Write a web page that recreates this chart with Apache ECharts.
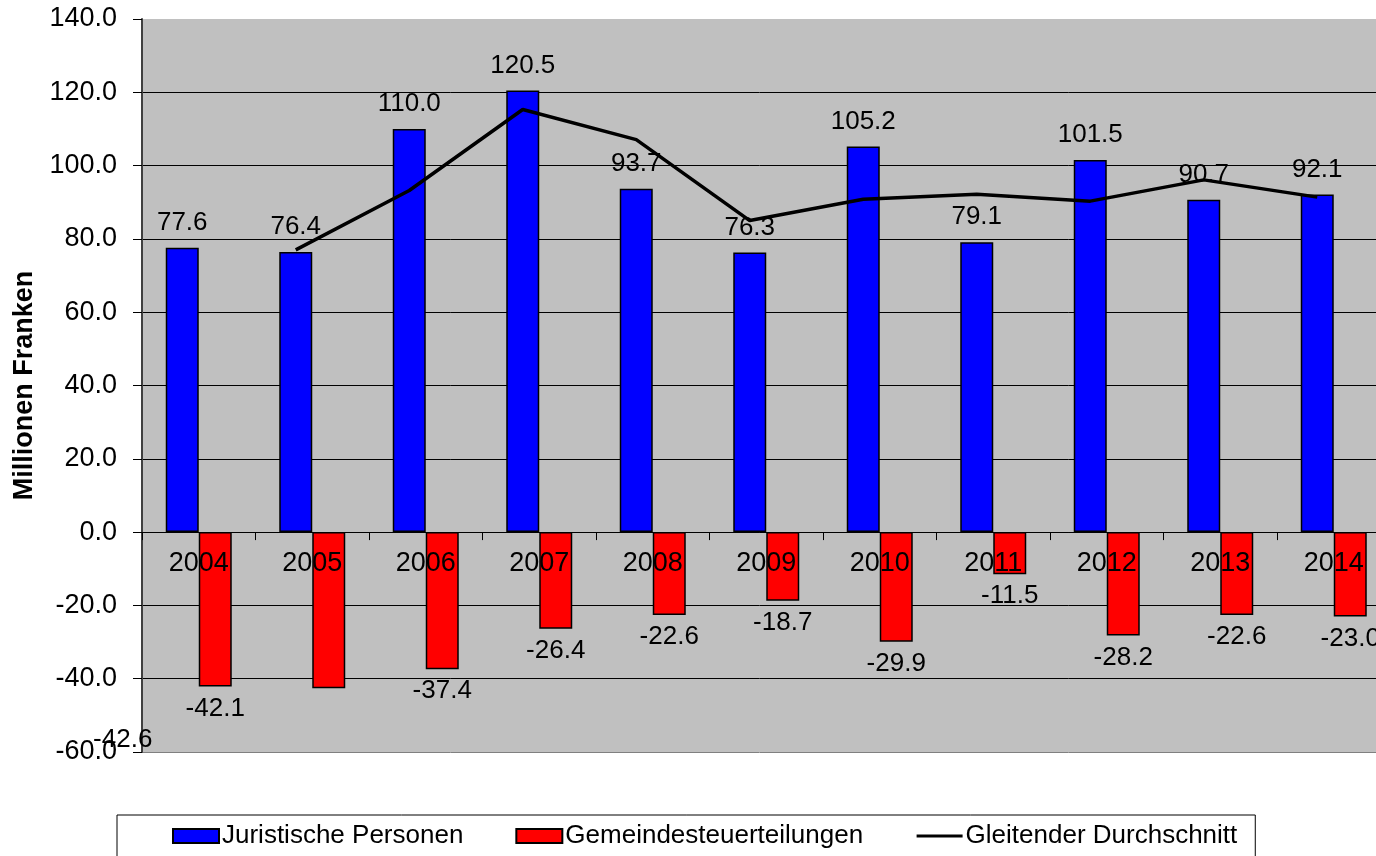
<!DOCTYPE html>
<html>
<head>
<meta charset="utf-8">
<script src="https://cdn.jsdelivr.net/npm/echarts@6/dist/echarts.min.js"></script>
<style>
  html, body { margin: 0; padding: 0; background: #fff; }
  #chart { width: 1376px; height: 856px; }
</style>
</head>
<body>
<div id="chart"></div>
<script>
// Jahre und Werte (Millionen Franken)
var years = ['2004', '2005', '2006', '2007', '2008', '2009', '2010', '2011', '2012', '2013', '2014'];
var juristische = [77.6, 76.4, 110.0, 120.5, 93.7, 76.3, 105.2, 79.1, 101.5, 90.7, 92.1];
var gemeinde = [-42.1, -42.6, -37.4, -26.4, -22.6, -18.7, -29.9, -11.5, -28.2, -22.6, -23.0];
// gleitender Durchschnitt, erst ab 2005
var gleitend = [null, 77.0, 93.2, 115.3, 107.1, 85.0, 90.8, 92.2, 90.3, 96.1, 91.4];

var FONT = "'Liberation Sans', Arial, sans-serif";
var Y_MIN = -60, Y_MAX = 140;
var GRID_TOP = 19, GRID_BOTTOM = 104, GRID_LEFT = 142;
var BAR_W = 33;
var CAT_W = 113.5;
var LINE_SHIFT = -(BAR_W / 2) / CAT_W;  // Linie sitzt auf der Mitte des blauen Balkens
// Plot geht rechts ueber den Bildrand hinaus (wie im Original abgeschnitten)
var GRID_RIGHT = 1376 - GRID_LEFT - CAT_W * years.length;

var chart = echarts.init(document.getElementById('chart'));

// Kategorienachse auf die Nulllinie schieben
var plotH = 856 - GRID_TOP - GRID_BOTTOM;
var zeroOffset = -plotH * (0 - Y_MIN) / (Y_MAX - Y_MIN);

function fmt(v) {
    return Number(v).toFixed(1);
}

// rote Werte; der Wert fuer 2005 ist im Original verrutscht
var redData = gemeinde.map(function (v, i) {
    if (i === 1) {
        return { value: v, label: { offset: [-206, 30] } };
    }
    return v;
});

var lineData = [];
for (var i = 0; i < gleitend.length; i++) {
    if (gleitend[i] === null) continue;
    lineData.push([i + LINE_SHIFT, gleitend[i]]);
}

var splitColors = [];
for (var k = 0; k <= 10; k++) {
    if (k === 0) splitColors.push('#808080');
    else if (k === 10) splitColors.push('rgba(0,0,0,0)');
    else splitColors.push('#000');
}

var option = {
    animation: false,
    textStyle: { fontFamily: FONT },
    grid: {
        left: GRID_LEFT,
        top: GRID_TOP,
        bottom: GRID_BOTTOM,
        right: GRID_RIGHT,
        outerBoundsMode: 'none',
        containLabel: false,
        show: true,
        backgroundColor: '#c0c0c0',
        borderWidth: 0
    },
    legend: {
        left: 117,
        top: 815,
        padding: [8, 18, 10, 55],
        borderColor: '#000',
        borderWidth: 1,
        itemWidth: 46,
        itemHeight: 14,
        itemGap: 52,
        textStyle: { fontSize: 26, color: '#000', fontFamily: FONT, padding: [0, 0, 0, -2] },
        data: [
            { name: 'Juristische Personen', icon: 'rect' },
            { name: 'Gemeindesteuerteilungen', icon: 'rect' },
            {
                name: 'Gleitender Durchschnitt',
                itemStyle: { color: 'rgba(0,0,0,0)', borderWidth: 0 },
                lineStyle: { color: '#000', width: 3 }
            }
        ]
    },
    xAxis: [
        {
            type: 'category',
            data: years,
            z: 5,
            offset: zeroOffset,
            axisLine: { onZero: false, lineStyle: { color: '#000', width: 1 } },
            axisTick: { show: true, length: 8, lineStyle: { color: '#000' } },
            axisLabel: { fontSize: 27, color: '#000', margin: 18, fontFamily: FONT },
            splitLine: { show: false }
        },
        {
            type: 'value',
            min: -0.5,
            max: 10.5,
            show: false
        }
    ],
    yAxis: {
        type: 'value',
        min: Y_MIN,
        max: Y_MAX,
        interval: 20,
        name: 'Millionen Franken',
        nameLocation: 'middle',
        nameGap: 104,
        nameTextStyle: { fontSize: 27, fontWeight: 'bold', color: '#000', fontFamily: FONT },
        axisLine: { show: true, onZero: false, lineStyle: { color: '#404040', width: 2 } },
        axisTick: { show: true, length: 9, lineStyle: { color: '#000' } },
        axisLabel: { fontSize: 27, color: '#000', margin: 25, formatter: fmt, fontFamily: FONT },
        splitLine: { show: true, lineStyle: { color: splitColors, width: 1 } }
    },
    series: [
        {
            name: 'Juristische Personen',
            type: 'bar',
            data: juristische,
            barWidth: BAR_W,
            barGap: '0%',
            itemStyle: { color: '#0000ff', borderColor: '#000', borderWidth: 1.5 },
            label: {
                show: true,
                position: 'top',
                distance: 12,
                fontSize: 26,
                color: '#000',
                fontFamily: FONT,
                formatter: function (p) { return fmt(p.value); }
            }
        },
        {
            name: 'Gemeindesteuerteilungen',
            type: 'bar',
            data: redData,
            barWidth: BAR_W,
            barGap: '0%',
            itemStyle: { color: '#ff0000', borderColor: '#000', borderWidth: 1.5 },
            label: {
                show: true,
                position: 'bottom',
                distance: 9,
                fontSize: 26,
                color: '#000',
                fontFamily: FONT,
                formatter: function (p) { return fmt(p.value); }
            }
        },
        {
            name: 'Gleitender Durchschnitt',
            type: 'line',
            xAxisIndex: 1,
            data: lineData,
            symbol: 'none',
            z: 4,
            lineStyle: { color: '#000', width: 3.5 },
            itemStyle: { color: '#000' }
        }
    ]
};

chart.setOption(option);
</script>
</body>
</html>
